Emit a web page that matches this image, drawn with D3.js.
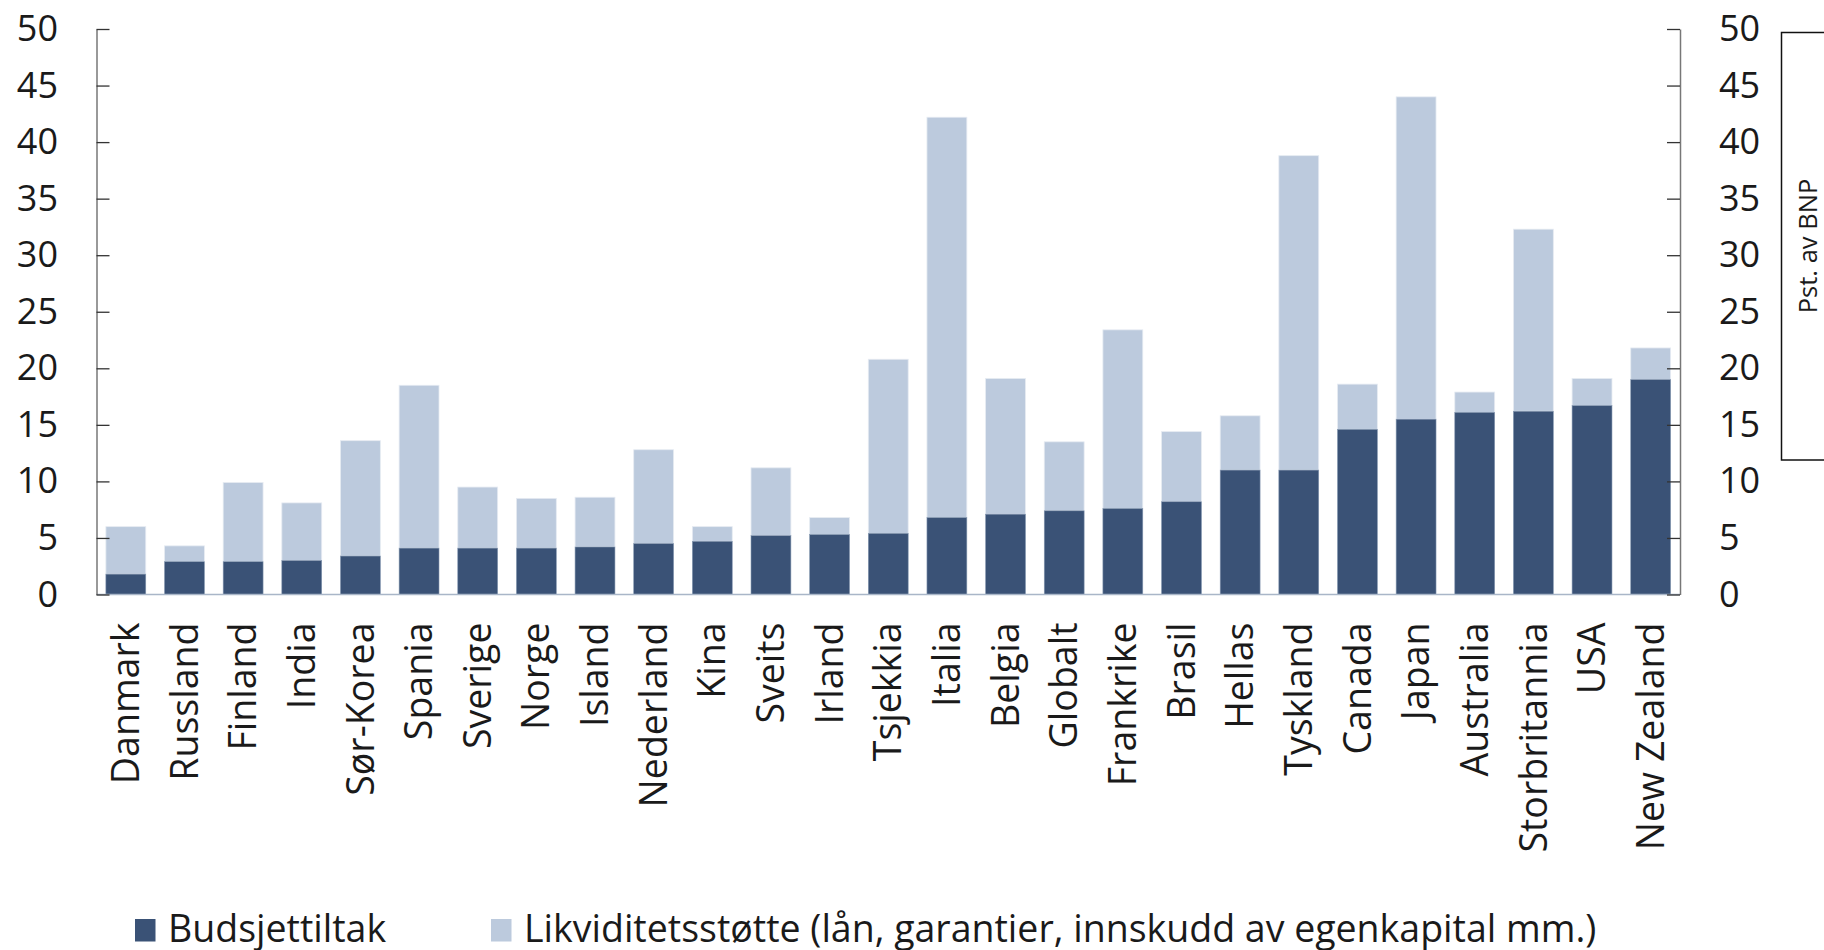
<!DOCTYPE html>
<html>
<head>
<meta charset="utf-8">
<script src="https://cdn.jsdelivr.net/npm/d3@7"></script>
<style>
  body { margin: 0; background: #fff; }
  svg { display: block; font-family: "Open Sans", sans-serif; }
</style>
</head>
<body>
<div id="chart"></div>
<script>
// data, pst. av BNP
var countries = ['Danmark','Russland','Finland','India','Sør-Korea','Spania','Sverige','Norge','Island',
  'Nederland','Kina','Sveits','Irland','Tsjekkia','Italia','Belgia','Globalt','Frankrike','Brasil',
  'Hellas','Tyskland','Canada','Japan','Australia','Storbritannia','USA','New Zealand'];
var budsjett = [1.8,2.9,2.9,3.0,3.4,4.1,4.1,4.1,4.2,4.5,4.7,5.2,5.3,5.4,6.8,7.1,7.4,7.6,8.2,
  11.0,11.0,14.6,15.5,16.1,16.2,16.7,19.0];
var totalt = [6.0,4.3,9.9,8.1,13.6,18.5,9.5,8.5,8.6,12.8,6.0,11.2,6.8,20.8,42.2,19.1,13.5,23.4,14.4,
  15.8,38.8,18.6,44.0,17.9,32.3,19.1,21.8];
var yTicks = [0,5,10,15,20,25,30,35,40,45,50];
var seriesNames = ['Budsjettiltak','Likviditetsstøtte (lån, garantier, innskudd av egenkapital mm.)'];
var unitLabel = 'Pst. av BNP';

var W = 1824, H = 950;
var m = {t:29, r:144, b:355.5, l:96.5},
    w = W - m.l - m.r,
    h = H - m.t - m.b;
var darkCol = '#3a5276', lightCol = '#bccadd';

var svg = d3.select('#chart').append('svg').attr('width',W).attr('height',H);
var plot = svg.append('g').attr('transform','translate(' + m.l + ',' + m.t + ')');

var x = d3.scaleBand().domain(countries).range([0,w]).paddingInner(0.32).paddingOuter(0.16);
var y = d3.scaleLinear().domain([0,50]).range([h,0]);

var rows = countries.map(function(c,i){ return {name:c, b:budsjett[i], t:totalt[i]}; });

//Light (total) bars behind, dark budget bars in front
plot.selectAll('.bar-total').data(rows).enter().append('rect')
  .attr('class','bar-total')
  .attr('x',function(d){return x(d.name);}).attr('width',x.bandwidth())
  .attr('y',function(d){return y(d.t);}).attr('height',function(d){return y(d.b) - y(d.t);})
  .style('fill',lightCol).style('stroke','#e6ebf2').style('stroke-width',0.8);
plot.selectAll('.bar-budget').data(rows).enter().append('rect')
  .attr('class','bar-budget')
  .attr('x',function(d){return x(d.name);}).attr('width',x.bandwidth())
  .attr('y',function(d){return y(d.b);}).attr('height',function(d){return h - y(d.b);})
  .style('fill',darkCol).style('stroke','#8497b0').style('stroke-width',0.6);

//Baseline
plot.append('line').attr('x1',0).attr('x2',w).attr('y1',h).attr('y2',h)
  .style('stroke','#a9b6c8').style('stroke-width',1.5);

//Axes
var axisL = d3.axisLeft(y).tickValues(yTicks).tickSizeInner(-13).tickSizeOuter(0).tickPadding(38.5);
var axisR = d3.axisRight(y).tickValues(yTicks).tickSizeInner(-13).tickSizeOuter(0).tickPadding(39);

var gL = plot.append('g').attr('class','axis').call(axisL);
var gR = plot.append('g').attr('class','axis').attr('transform','translate(' + w + ',0)').call(axisR);
[gL,gR].forEach(function(g){
  g.select('.domain').style('stroke','#777').style('stroke-width',1.5);
  g.selectAll('.tick line').style('stroke','#333').style('stroke-width',1.3);
  g.selectAll('.tick text').style('font-size','36px').style('fill','#1a1a1a')
    .style('font-family','"Open Sans", sans-serif');
});

//Category labels, rotated
plot.append('g').selectAll('text').data(countries).enter().append('text')
  .attr('transform',function(d){return 'translate(' + (x(d) + x.bandwidth()/2) + ',' + (h + 28) + ') rotate(-90)';})
  .attr('dy','0.35em')
  .style('text-anchor','end').style('font-size','37.5px').style('fill','#1a1a1a')
  .text(function(d){return d;});

//Unit box on the right
svg.append('rect').attr('x',1781.5).attr('y',32.5).attr('width',70).attr('height',427.5)
  .style('fill','none').style('stroke','#111').style('stroke-width',1.5);
svg.append('text').attr('transform','translate(1808.5,246) rotate(-90)')
  .attr('dy','0.35em').style('text-anchor','middle').style('font-size','25.5px').style('fill','#1a1a1a')
  .text(unitLabel);

//Legend
var legend = svg.append('g').selectAll('g').data(seriesNames).enter().append('g')
  .attr('transform',function(d,i){return 'translate(' + [135,491][i] + ',919)';});
legend.append('rect').attr('width',20.5).attr('height',22.5)
  .style('fill',function(d,i){return i === 0 ? darkCol : lightCol;});
legend.append('text').attr('x',33).attr('y',22.5).style('font-size','37.5px').style('fill','#1a1a1a')
  .text(function(d){return d;});
</script>
</body>
</html>
